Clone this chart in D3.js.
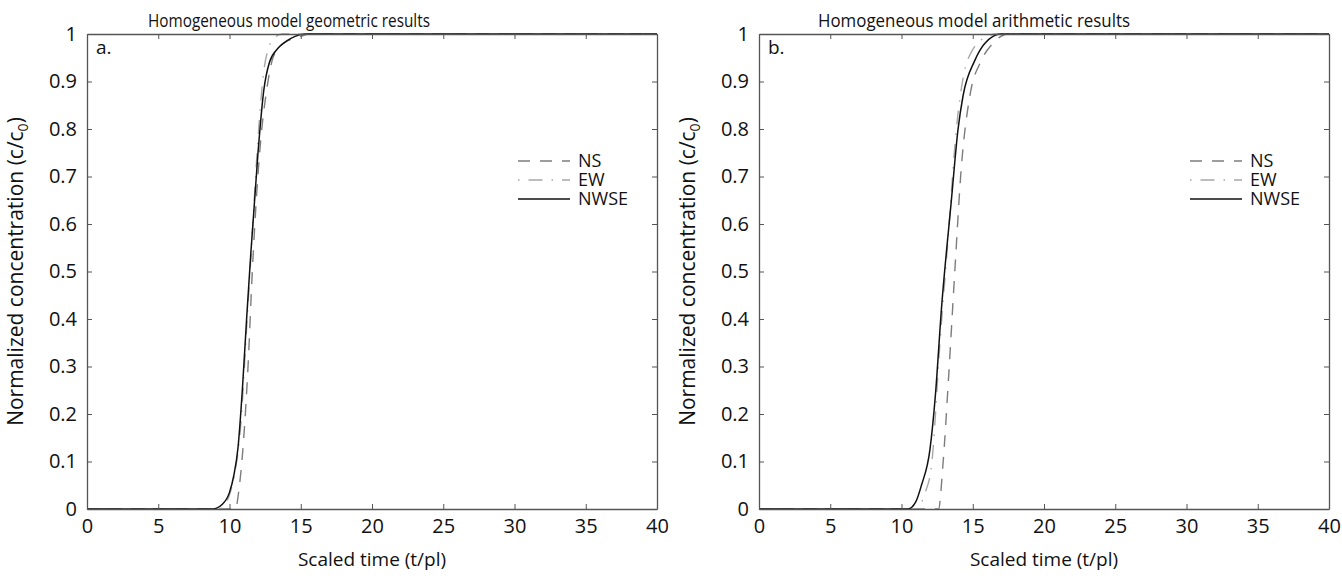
<!DOCTYPE html>
<html>
<head>
<meta charset="utf-8">
<script src="https://cdn.jsdelivr.net/npm/d3@7"></script>
<style>
  body { margin: 0; background: #fff; }
  svg { font-family: "Open Sans", "Noto Sans", sans-serif; }
</style>
</head>
<body>
<div id="chart"></div>
<script>
// axis ticks
var xTicks = [0, 5, 10, 15, 20, 25, 30, 35, 40]
var yTicks = [0, 0.1, 0.2, 0.3, 0.4, 0.5, 0.6, 0.7, 0.8, 0.9, 1]
var seriesNames = ["NS", "EW", "NWSE"]

// panel a - geometric results (t/pl, c/c0)
var geoNsT = [0, 10.4, 10.7, 11.0, 11.3, 11.6, 11.9, 12.2, 12.6, 13.0, 13.5, 14.0, 14.5, 15.0, 15.6, 40]
var geoNsC = [0, 0, 0.05, 0.15, 0.30, 0.50, 0.66, 0.78, 0.88, 0.945, 0.972, 0.985, 0.99, 0.995, 1, 1]
var geoEwT = [0, 9.3, 9.7, 10.0, 10.4, 10.8, 11.2, 11.6, 12.0, 12.4, 12.8, 13.2, 13.7, 40]
var geoEwC = [0, 0, 0.01, 0.03, 0.08, 0.18, 0.38, 0.58, 0.78, 0.92, 0.975, 0.993, 1, 1]
var geoNwseT = [0, 8.8, 9.5, 10.0, 10.3, 10.6, 10.9, 11.2, 11.5, 12.0, 12.4, 12.8, 13.4, 14.0, 14.6, 15.3, 40]
var geoNwseC = [0, 0, 0.01, 0.035, 0.07, 0.13, 0.25, 0.40, 0.54, 0.75, 0.88, 0.94, 0.97, 0.985, 0.995, 1, 1]

// panel b - arithmetic results
var ariNsT = [0, 12.6, 12.9, 13.3, 13.74, 14.2, 14.8, 15.6, 16.4, 17.5, 40]
var ariNsC = [0, 0, 0.09, 0.275, 0.50, 0.72, 0.87, 0.944, 0.98, 1, 1]
var ariEwT = [0, 11.1, 11.6, 12.1, 12.7, 13.27, 13.85, 14.32, 15.0, 16.1, 16.6, 40]
var ariEwC = [0, 0, 0.03, 0.09, 0.35, 0.57, 0.80, 0.907, 0.967, 0.996, 1, 1]
var ariNwseT = [0, 10.45, 11.0, 11.4, 12.0, 12.38, 12.8, 13.5, 13.97, 14.32, 15.14, 15.84, 17.0, 40]
var ariNwseC = [0, 0, 0.015, 0.05, 0.126, 0.24, 0.42, 0.65, 0.80, 0.87, 0.944, 0.98, 1, 1]

function zip(t, c) {
    var out = []
    for (var i = 0; i < t.length; i++) out.push({t: t[i], c: c[i]})
    return out
}

var styles = {
    NS: {color: "#7d7d7d", dash: "12,10", width: 1.4},
    EW: {color: "#a8a8a8", dash: "1.5,9,14,9", width: 1.4},
    NWSE: {color: "#111", dash: null, width: 1.5}
}

var panels = [
    {title: "Homogeneous model geometric results", tag: "a.", left: 87, titleX: 289, titleW: 282,
     series: {NS: zip(geoNsT, geoNsC), EW: zip(geoEwT, geoEwC), NWSE: zip(geoNwseT, geoNwseC)}},
    {title: "Homogeneous model arithmetic results", tag: "b.", left: 759, titleX: 974, titleW: 312,
     series: {NS: zip(ariNsT, ariNsC), EW: zip(ariEwT, ariEwC), NWSE: zip(ariNwseT, ariNwseC)}}
]

var W = 1342, H = 584
var plotTop = 34, plotBottom = 509, pw = 570

var svg = d3.select("#chart").append("svg")
    .attr("width", W)
    .attr("height", H)

panels.forEach(function (p) {
    var x = d3.scaleLinear().domain([0, 40]).range([p.left, p.left + pw])
    var y = d3.scaleLinear().domain([0, 1]).range([plotBottom, plotTop])
    var g = svg.append("g")

    // curves, drawn before the box
    var line = d3.line()
        .x(function (d) { return x(d.t) })
        .y(function (d) { return y(d.c) })
        .curve(d3.curveMonotoneX)

    seriesNames.forEach(function (name) {
        var s = styles[name]
        g.append("path")
            .datum(p.series[name])
            .attr("fill", "none")
            .attr("stroke", s.color)
            .attr("stroke-width", s.width)
            .attr("stroke-dasharray", s.dash)
            .attr("d", line)
    })

    // axes with inward ticks (matlab box)
    var axB = g.append("g").attr("transform", "translate(0," + plotBottom + ")")
        .call(d3.axisBottom(x).tickValues(xTicks).tickSizeInner(-5).tickSizeOuter(0).tickPadding(10))
    var axL = g.append("g").attr("transform", "translate(" + p.left + ",0)")
        .call(d3.axisLeft(y).tickValues(yTicks).tickFormat(d3.format("~g")).tickSizeInner(-5).tickSizeOuter(0).tickPadding(10))
    var axT = g.append("g").attr("transform", "translate(0," + plotTop + ")")
        .call(d3.axisTop(x).tickValues(xTicks).tickSizeInner(-5).tickSizeOuter(0).tickFormat(""))
    var axR = g.append("g").attr("transform", "translate(" + (p.left + pw) + ",0)")
        .call(d3.axisRight(y).tickValues(yTicks).tickSizeInner(-5).tickSizeOuter(0).tickFormat(""))
    ;[axB, axL, axT, axR].forEach(function (a) {
        a.attr("font-family", null).attr("font-size", 20)
        a.selectAll(".tick text").attr("fill", "#111")
        a.select(".domain").attr("stroke", "#555").attr("stroke-width", 1.3)
        a.selectAll(".tick line").attr("stroke", "#555")
    })

    // panel tag
    g.append("text").attr("x", p.left + 9).attr("y", plotTop + 20)
        .attr("font-size", 19).attr("fill", "#111").text(p.tag)

    // title
    g.append("text").attr("x", p.titleX).attr("y", 27)
        .attr("text-anchor", "middle").attr("font-size", 19).attr("fill", "#111")
        .attr("textLength", p.titleW).attr("lengthAdjust", "spacingAndGlyphs")
        .text(p.title)

    // x label
    g.append("text").attr("x", x(20)).attr("y", 566)
        .attr("text-anchor", "middle").attr("font-size", 19).attr("fill", "#111")
        .text("Scaled time (t/pl)")

    // y label with subscript
    var yl = g.append("text")
        .attr("transform", "translate(" + (p.left - 64) + "," + ((plotTop + plotBottom) / 2) + ") rotate(-90)")
        .attr("text-anchor", "middle").attr("font-size", 21).attr("fill", "#111")
    yl.append("tspan").text("Normalized concentration (c/c")
    yl.append("tspan").attr("font-size", 14).attr("dy", 5).text("0")
    yl.append("tspan").attr("dy", -5).text(")")

    // legend
    var lx = p.left + pw - 139
    seriesNames.forEach(function (name, i) {
        var s = styles[name]
        var ly = 161 + i * 19
        g.append("line")
            .attr("x1", lx).attr("x2", lx + 52)
            .attr("y1", ly).attr("y2", ly)
            .attr("stroke", s.color)
            .attr("stroke-width", s.width)
            .attr("stroke-dasharray", s.dash)
        g.append("text").attr("x", lx + 60).attr("y", ly + 6)
            .attr("font-size", 18).attr("fill", "#111").text(name)
    })
})
</script>
</body>
</html>
